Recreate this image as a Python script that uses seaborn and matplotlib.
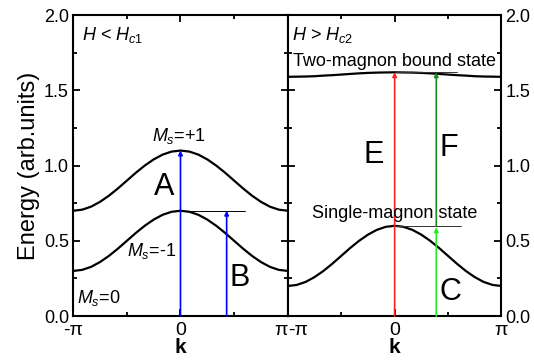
import numpy as np
import pandas as pd
import matplotlib
matplotlib.use('Agg')
import matplotlib.pyplot as plt
import seaborn as sns
from matplotlib.ticker import MultipleLocator, FormatStrFormatter

# wave vector samples, in units of pi (steps of pi/12)
k_pi = [-1.0, -0.9167, -0.8333, -0.75, -0.6667, -0.5833, -0.5, -0.4167, -0.3333,
        -0.25, -0.1667, -0.0833, 0.0, 0.0833, 0.1667, 0.25, 0.3333, 0.4167,
        0.5, 0.5833, 0.6667, 0.75, 0.8333, 0.9167, 1.0]

# left panel (H < Hc1)
band_plus = [0.700, 0.707, 0.727, 0.759, 0.800, 0.848, 0.900, 0.952, 1.000,
             1.041, 1.073, 1.093, 1.100, 1.093, 1.073, 1.041, 1.000, 0.952,
             0.900, 0.848, 0.800, 0.759, 0.727, 0.707, 0.700]
band_minus = [0.300, 0.307, 0.327, 0.359, 0.400, 0.448, 0.500, 0.552, 0.600,
              0.641, 0.673, 0.693, 0.700, 0.693, 0.673, 0.641, 0.600, 0.552,
              0.500, 0.448, 0.400, 0.359, 0.327, 0.307, 0.300]

# right panel (H > Hc2)
single_magnon = [0.200, 0.207, 0.227, 0.259, 0.300, 0.348, 0.400, 0.452, 0.500,
                 0.541, 0.573, 0.593, 0.600, 0.593, 0.573, 0.541, 0.500, 0.452,
                 0.400, 0.348, 0.300, 0.259, 0.227, 0.207, 0.200]
two_magnon = [1.590, 1.591, 1.592, 1.594, 1.598, 1.601, 1.605, 1.609, 1.613,
              1.616, 1.618, 1.619, 1.620, 1.619, 1.618, 1.616, 1.613, 1.609,
              1.605, 1.601, 1.598, 1.594, 1.592, 1.591, 1.590]

xtick_labels = ['-\u03c0', '0', '\u03c0']

sns.set_theme(style="ticks")
plt.rcParams['font.family'] = ['Liberation Sans', 'DejaVu Sans']
plt.rcParams['mathtext.fontset'] = 'custom'
plt.rcParams['mathtext.rm'] = 'Liberation Sans'
plt.rcParams['mathtext.it'] = 'Liberation Sans:italic'
for key in ('text.color', 'axes.labelcolor', 'xtick.color', 'ytick.color'):
    plt.rcParams[key] = 'black'

k = np.array(k_pi) * np.pi
df_left = pd.DataFrame({'k': np.concatenate([k, k]),
                        'E': band_plus + band_minus,
                        'branch': ['+1'] * len(k) + ['-1'] * len(k)})
df_right = pd.DataFrame({'k': np.concatenate([k, k]),
                         'E': single_magnon + two_magnon,
                         'branch': ['single'] * len(k) + ['two'] * len(k)})

fig = plt.figure(figsize=(5.34, 3.6), dpi=100)
ax1 = fig.add_axes([0.137, 0.122, 0.402, 0.836])
ax2 = fig.add_axes([0.539, 0.122, 0.400, 0.836])

sns.lineplot(data=df_left, x='k', y='E', units='branch', estimator=None,
             color='black', lw=1.6, ax=ax1)
sns.lineplot(data=df_right, x='k', y='E', units='branch', estimator=None,
             color='black', lw=1.6, ax=ax2)

def arrow(ax, x, y0, y1, c):
    ax.annotate('', xy=(x, y1), xytext=(x, y0),
                arrowprops=dict(arrowstyle='-|>', color=c, lw=1.2,
                                mutation_scale=6, shrinkA=0, shrinkB=0))

kB = 0.43 * np.pi
kC = 0.39 * np.pi

# left panel arrows and guides
ax1.plot([0, 0.6 * np.pi], [0.7, 0.7], color='black', lw=0.7)
arrow(ax1, 0, 0, 1.1, 'blue')
arrow(ax1, kB, 0, 0.7, 'blue')

# right panel arrows and guides
ax2.plot([0, 0.62 * np.pi], [0.6, 0.6], color='#333333', lw=0.7)
ax2.plot([0, 0.58 * np.pi], [1.62, 1.62], color='#333333', lw=0.7)
arrow(ax2, 0, 0, 1.62, '#ff2020')
arrow(ax2, kC, 0.6, 1.62, '#1a8c1a')
arrow(ax2, kC, 0, 0.59, '#22ee22')

for ax in (ax1, ax2):
    ax.set_xlim(-np.pi, np.pi)
    ax.set_ylim(0, 2.0)
    ax.set_xticks([-np.pi, 0, np.pi])
    ax.set_xticklabels(xtick_labels, fontsize=14)
    ax.xaxis.set_minor_locator(MultipleLocator(np.pi / 2))
    ax.yaxis.set_major_locator(MultipleLocator(0.5))
    ax.yaxis.set_minor_locator(MultipleLocator(0.25))
    ax.yaxis.set_major_formatter(FormatStrFormatter('%.1f'))
    ax.tick_params(which='both', direction='in', top=True, right=True,
                   width=1.3, colors='black', pad=3)
    ax.tick_params(axis='x', pad=4)
    ax.tick_params(axis='y', labelsize=13)
    ax.tick_params(which='major', length=5)
    ax.tick_params(which='minor', length=3)
    for s in ax.spines.values():
        s.set_linewidth(1.5)
        s.set_color('black')
    ax.set_xlabel('k', fontsize=15, fontweight='bold', va='top')
    ax.xaxis.set_label_coords(0.5, -0.072)
    ax.set_ylabel('')

ax1.get_xticklabels()[2].set_ha('right')
ax2.get_xticklabels()[0].set_ha('left')
ax2.tick_params(axis='y', labelleft=False, labelright=True)
ax1.set_ylabel('Energy (arb.units)', fontsize=17, labelpad=3)

# left panel texts
ax1.text(0.04, 0.935, r'$H$ < $H_{c1}$', transform=ax1.transAxes, fontsize=13,
         va='center')
ax1.text(-0.27 * np.pi, 1.2, r'$M_s$=+1', fontsize=13, va='center')
ax1.text(-0.15 * np.pi, 0.86, 'A', fontsize=22, ha='center', va='center')
ax1.text(-0.5 * np.pi, 0.43, r'$M_s$=-1', fontsize=13, va='center')
ax1.text(0.55 * np.pi, 0.25, 'B', fontsize=22, ha='center', va='center')
ax1.text(-0.96 * np.pi, 0.12, r'$M_s$=0', fontsize=13, va='center')

# right panel texts
ax2.text(0.02, 0.935, r'$H$ > $H_{c2}$', transform=ax2.transAxes, fontsize=13,
         va='center')
ax2.text(0.0, 1.69, 'Two-magnon bound state', fontsize=13, ha='center', va='center')
ax2.text(0.0, 0.68, 'Single-magnon state', fontsize=13, ha='center', va='center')
ax2.text(-0.2 * np.pi, 1.07, 'E', fontsize=22, ha='center', va='center')
ax2.text(0.51 * np.pi, 1.12, 'F', fontsize=22, ha='center', va='center')
ax2.text(0.52 * np.pi, 0.16, 'C', fontsize=22, ha='center', va='center')

fig.savefig('out.png', dpi=100)
